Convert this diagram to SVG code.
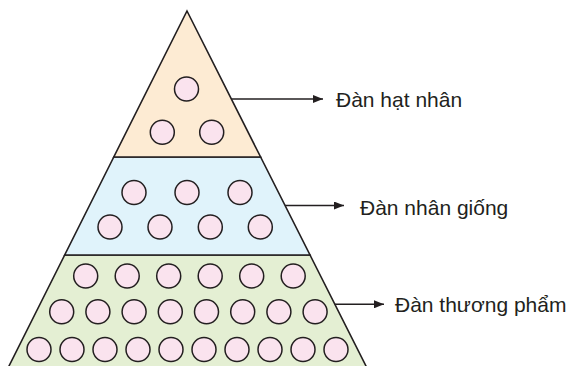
<svg xmlns="http://www.w3.org/2000/svg" width="567" height="366" viewBox="0 0 567 366">
<defs>
<style>
.band{stroke:#231f20;stroke-width:1.6;stroke-linejoin:miter}
.c{fill:#fae3ee;stroke:#231f20;stroke-width:1.5}
.lbl{font-family:"Liberation Sans",Arial,sans-serif;font-size:21px;fill:#231f20}
.conn{stroke:#231f20;stroke-width:1.6;fill:none}
</style>
<marker id="ah" viewBox="0 0 10 8" refX="10" refY="4" markerWidth="10" markerHeight="8" markerUnits="userSpaceOnUse" orient="auto">
<path d="M0,0 L10,4 L0,8 Z" fill="#231f20"/>
</marker>
</defs>
<rect width="567" height="366" fill="#ffffff"/>
<g id="dan-thuong-pham">
<polygon class="band" fill="#e4efd3" points="64.7,255 310,255 368,370 7,370"/>
<g>
<circle class="c" cx="85.7" cy="276" r="12"/><circle class="c" cx="127.2" cy="276" r="12"/><circle class="c" cx="168.7" cy="276" r="12"/><circle class="c" cx="210.2" cy="276" r="12"/><circle class="c" cx="251.7" cy="276" r="12"/><circle class="c" cx="293.2" cy="276" r="12"/>
<circle class="c" cx="61.7" cy="311.7" r="12"/><circle class="c" cx="97.9" cy="311.7" r="12"/><circle class="c" cx="134.1" cy="311.7" r="12"/><circle class="c" cx="170.3" cy="311.7" r="12"/><circle class="c" cx="206.5" cy="311.7" r="12"/><circle class="c" cx="242.7" cy="311.7" r="12"/><circle class="c" cx="278.9" cy="311.7" r="12"/><circle class="c" cx="315.1" cy="311.7" r="12"/>
<circle class="c" cx="39" cy="349.5" r="12"/><circle class="c" cx="72" cy="349.5" r="12"/><circle class="c" cx="105" cy="349.5" r="12"/><circle class="c" cx="138" cy="349.5" r="12"/><circle class="c" cx="171" cy="349.5" r="12"/><circle class="c" cx="204" cy="349.5" r="12"/><circle class="c" cx="237" cy="349.5" r="12"/><circle class="c" cx="270" cy="349.5" r="12"/><circle class="c" cx="303" cy="349.5" r="12"/><circle class="c" cx="336" cy="349.5" r="12"/>
</g>
<text class="lbl" x="395" y="311.5">Đàn thương phẩm</text>
</g>
<g id="dan-nhan-giong">
<polygon class="band" fill="#e0f3fb" points="113.8,157 260.6,157 310,255 64.7,255"/>
<g>
<circle class="c" cx="134" cy="192.5" r="12"/><circle class="c" cx="187" cy="192.5" r="12"/><circle class="c" cx="240" cy="192.5" r="12"/>
<circle class="c" cx="110" cy="227" r="12"/><circle class="c" cx="160" cy="227" r="12"/><circle class="c" cx="210.3" cy="227" r="12"/><circle class="c" cx="260.3" cy="227" r="12"/>
</g>
<text class="lbl" x="360" y="215">Đàn nhân giống</text>
</g>
<g id="dan-hat-nhan">
<polygon class="band" fill="#fdebd3" points="187,11 260.6,157 113.8,157"/>
<g>
<circle class="c" cx="186.5" cy="89" r="12"/><circle class="c" cx="162.3" cy="132.3" r="12"/><circle class="c" cx="211.7" cy="132.3" r="12"/>
</g>
<text class="lbl" x="336" y="106.5">Đàn hạt nhân</text>
</g>
<g id="connectors">
<line class="conn" x1="231.4" y1="99" x2="323" y2="99" marker-end="url(#ah)"/>
<line class="conn" x1="285" y1="205.5" x2="344" y2="205.5" marker-end="url(#ah)"/>
<line class="conn" x1="334.7" y1="304.3" x2="384" y2="304.3" marker-end="url(#ah)"/>
</g>
</svg>
